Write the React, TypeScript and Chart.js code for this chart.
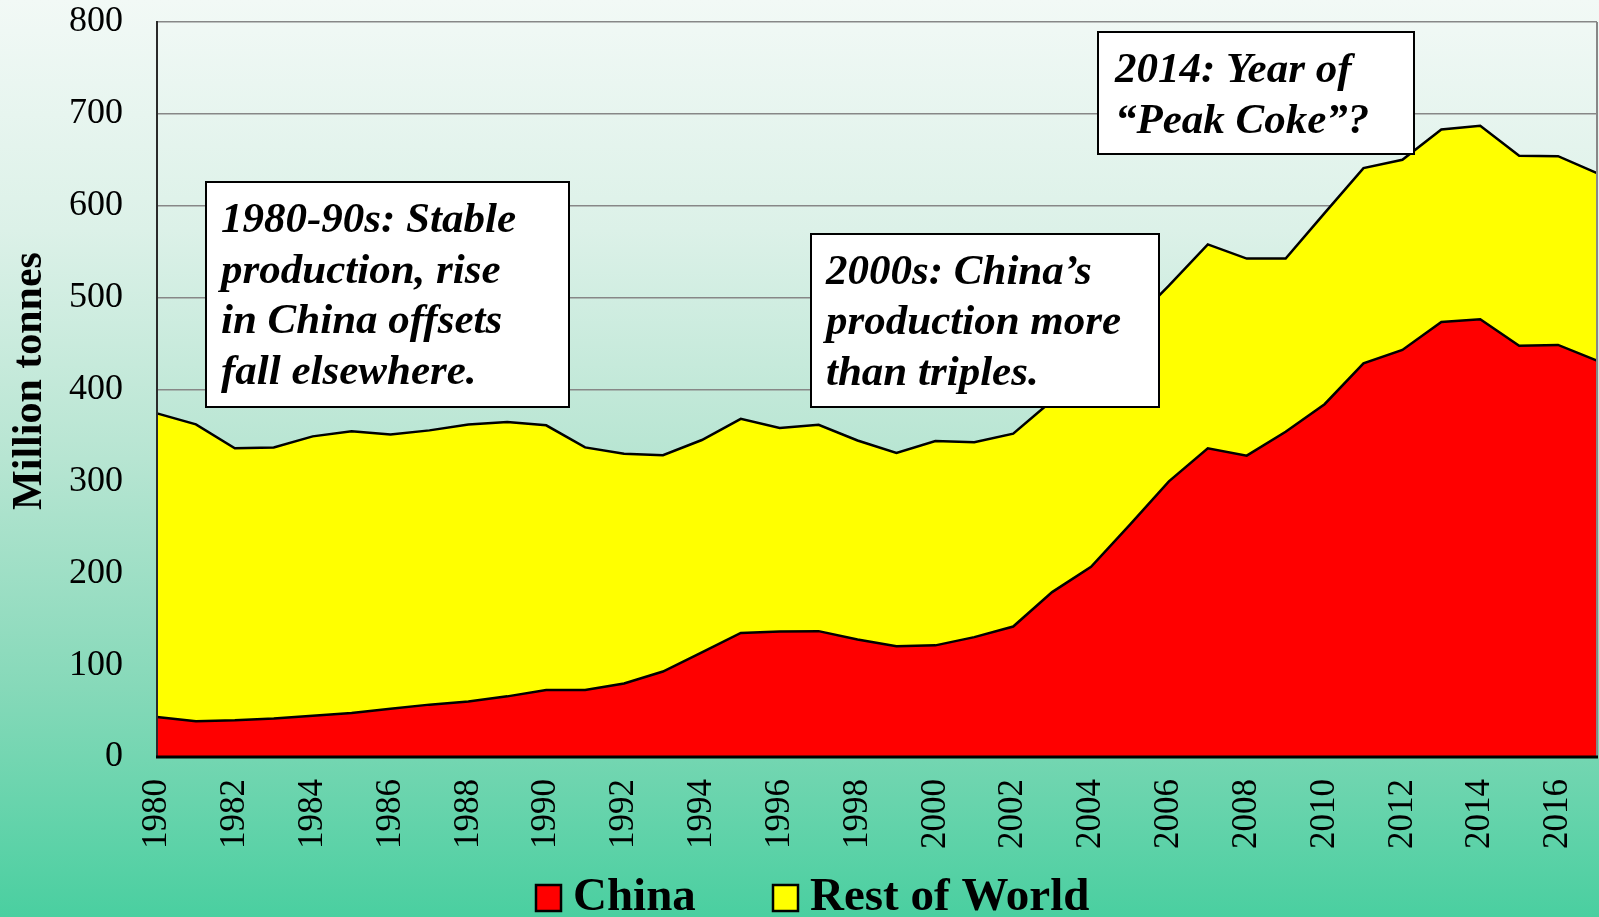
import React, { useEffect, useRef } from "react";
import { Chart, registerables } from "chart.js";

Chart.register(...registerables);

// World coke production, million tonnes
const YEARS = [
  1980, 1981, 1982, 1983, 1984, 1985, 1986, 1987, 1988, 1989,
  1990, 1991, 1992, 1993, 1994, 1995, 1996, 1997, 1998, 1999,
  2000, 2001, 2002, 2003, 2004, 2005, 2006, 2007, 2008, 2009,
  2010, 2011, 2012, 2013, 2014, 2015, 2016, 2017,
];

const CHINA = [
  43.5, 39, 40, 42, 45, 48, 52.5, 57, 60.5, 66,
  73, 73, 80, 93, 114, 135, 136.5, 137, 128, 120.5,
  121.5, 130.5, 142, 179.5, 207, 253, 300, 336, 328, 354,
  384, 428.5, 443, 473.5, 476.5, 447.5, 448.5, 431.5,
];

const REST_OF_WORLD = [
  330.5, 323, 296, 295, 304, 306.5, 298.5, 298.5, 301.5, 298.5,
  288, 264, 250, 235.5, 231, 233, 221.5, 224.5, 216.5, 210.5,
  222.5, 212, 210, 208.5, 223, 217, 213, 222, 214.5, 188.5,
  208, 212.5, 207, 209.5, 210.5, 207, 205.5, 204,
];

const Y_MIN = 0;
const Y_MAX = 800;
const Y_STEP = 100;
const Y_TITLE = "Million tonnes";
const SERIES_NAMES = ["China", "Rest of World"];
const SERIES_COLORS = ["#ff0000", "#ffff00"];

const NOTE_EARLY = ["1980-90s: Stable", "production, rise", "in China offsets", "fall elsewhere."];
const NOTE_2000S = ["2000s: China\u2019s", "production more", "than triples."];
const NOTE_PEAK = ["2014: Year of", "\u201cPeak Coke\u201d?"];

const SERIF = '"Liberation Serif", "Times New Roman", serif';
const W = 1599;
const H = 917;

type Note = { x: number; y: number; w: number; h: number; tx: number; base: number; lines: string[] };

const NOTES: Note[] = [
  { x: 206, y: 182, w: 363, h: 225, tx: 221, base: 232, lines: NOTE_EARLY },
  { x: 811, y: 234, w: 348, h: 173, tx: 826, base: 283.5, lines: NOTE_2000S },
  { x: 1098, y: 32, w: 316, h: 122, tx: 1115, base: 82, lines: NOTE_PEAK },
];

const decorations = {
  id: "decorations",
  afterDatasetsDraw(chart: any) {
    const { ctx, chartArea } = chart;
    const { left, right, top, bottom } = chartArea;
    ctx.save();
    // plot frame
    ctx.lineCap = "butt";
    ctx.strokeStyle = "#878787";
    ctx.lineWidth = 2;
    ctx.beginPath();
    ctx.moveTo(right, top);
    ctx.lineTo(right, bottom);
    ctx.stroke();
    ctx.strokeStyle = "#2a2a2a";
    ctx.lineWidth = 2;
    ctx.beginPath();
    ctx.moveTo(left, top - 1);
    ctx.lineTo(left, bottom);
    ctx.stroke();
    ctx.strokeStyle = "#000";
    ctx.lineWidth = 3;
    ctx.beginPath();
    ctx.moveTo(left - 1, bottom);
    ctx.lineTo(right + 1, bottom);
    ctx.stroke();

    // annotation boxes
    ctx.font = `italic bold 43px ${SERIF}`;
    ctx.textAlign = "left";
    ctx.textBaseline = "alphabetic";
    for (const n of NOTES) {
      ctx.fillStyle = "#ffffff";
      ctx.fillRect(n.x, n.y, n.w, n.h);
      ctx.strokeStyle = "#000";
      ctx.lineWidth = 2;
      ctx.strokeRect(n.x, n.y, n.w, n.h);
      ctx.fillStyle = "#000";
      n.lines.forEach((line, i) => ctx.fillText(line, n.tx, n.base + i * 50.5));
    }
    ctx.restore();
  },
  afterDraw(chart: any) {
    const { ctx } = chart;
    ctx.save();
    // y axis title
    ctx.translate(30, 381);
    ctx.rotate(-Math.PI / 2);
    ctx.font = `bold 42px ${SERIF}`;
    ctx.fillStyle = "#000";
    ctx.textAlign = "center";
    ctx.textBaseline = "middle";
    ctx.fillText(Y_TITLE, 0, 0);
    ctx.restore();

    // legend
    ctx.save();
    ctx.font = `bold 47px ${SERIF}`;
    ctx.textAlign = "left";
    ctx.textBaseline = "alphabetic";
    const items = [
      { bx: 536, tx: 573 },
      { bx: 773, tx: 810 },
    ];
    items.forEach((it, i) => {
      ctx.fillStyle = SERIES_COLORS[i];
      ctx.fillRect(it.bx, 885, 25, 26);
      ctx.strokeStyle = "#000";
      ctx.lineWidth = 2.5;
      ctx.strokeRect(it.bx, 885, 25, 26);
      ctx.fillStyle = "#000";
      ctx.fillText(SERIES_NAMES[i], it.tx, 910);
    });
    ctx.restore();
  },
};

export default function App() {
  const canvasRef = useRef<HTMLCanvasElement | null>(null);

  useEffect(() => {
    const canvas = canvasRef.current;
    if (!canvas) return;
    const chart = new Chart(canvas, {
      type: "line",
      data: {
        labels: YEARS.map(String),
        datasets: [
          {
            label: SERIES_NAMES[0],
            data: CHINA,
            backgroundColor: SERIES_COLORS[0],
            borderColor: "#000",
            borderWidth: 2.5,
            fill: "origin",
            pointRadius: 0,
            tension: 0,
          },
          {
            label: SERIES_NAMES[1],
            data: REST_OF_WORLD,
            backgroundColor: SERIES_COLORS[1],
            borderColor: "#000",
            borderWidth: 2.5,
            fill: "-1",
            pointRadius: 0,
            tension: 0,
          },
        ],
      },
      options: {
        animation: false,
        responsive: false,
        devicePixelRatio: 1,
        layout: { padding: { left: 0, right: 2, top: 22, bottom: 0 } },
        plugins: {
          legend: { display: false },
          tooltip: { enabled: false },
        },
        scales: {
          x: {
            type: "category",
            offset: false,
            grid: { display: false, drawTicks: false },
            border: { display: false },
            ticks: {
              autoSkip: false,
              maxRotation: 90,
              minRotation: 90,
              padding: 22,
              color: "#000",
              font: { family: SERIF, size: 35, lineHeight: 1 },
              callback: (_v: any, i: number) => (YEARS[i] % 2 === 0 ? String(YEARS[i]) : ""),
            },
            afterFit(scale: any) {
              scale.height = 160;
              scale.paddingLeft = 0;
              scale.paddingRight = 0;
            },
          },
          y: {
            stacked: true,
            min: Y_MIN,
            max: Y_MAX,
            grid: { color: "#878787", lineWidth: 1.5, drawTicks: false },
            border: { display: false },
            ticks: {
              stepSize: Y_STEP,
              padding: 34,
              color: "#000",
              font: { family: SERIF, size: 36, lineHeight: 1 },
            },
            afterFit(scale: any) {
              scale.width = 157;
              scale.paddingTop = 0;
              scale.paddingBottom = 0;
            },
          },
        },
      },
      plugins: [decorations],
    });
    return () => chart.destroy();
  }, []);

  return (
    <div
      style={{
        position: "fixed",
        left: 0,
        top: 0,
        width: W,
        height: H,
        background:
          "linear-gradient(to bottom, #f2f9f6 0%, #dcf1e8 25%, #b7e5d2 50%, #86d9b9 75%, #4acfa0 100%)",
      }}
    >
      <canvas ref={canvasRef} width={W} height={H} style={{ display: "block", width: W, height: H }} />
    </div>
  );
}
